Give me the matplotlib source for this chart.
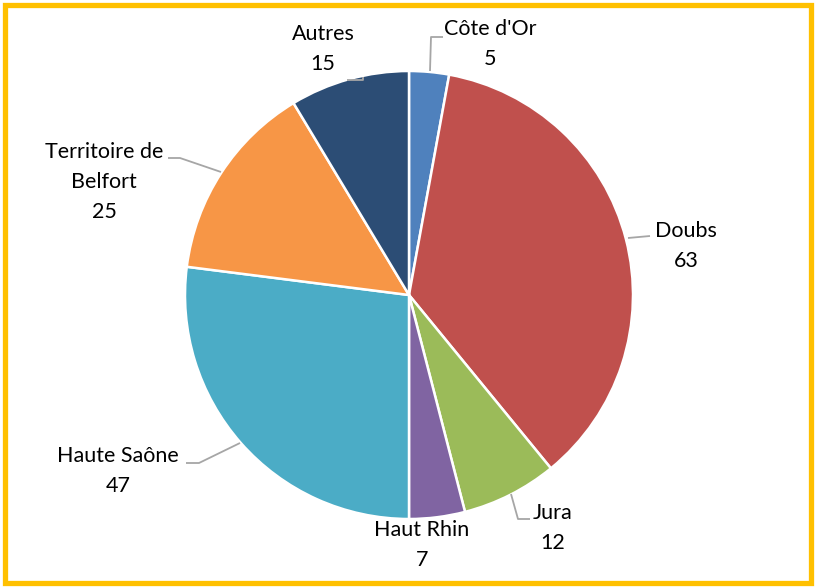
import matplotlib
matplotlib.use("Agg")
import matplotlib.pyplot as plt
from matplotlib.patches import Rectangle

# ---- data ----
categories = ["Côte d'Or", "Doubs", "Jura", "Haut Rhin", "Haute Saône",
              "Territoire de\nBelfort", "Autres"]
values = [5, 63, 12, 7, 47, 25, 15]
colors = ["#4F81BD", "#C0504D", "#9BBB59", "#8064A2", "#4BACC6",
          "#F79646", "#2C4D75"]

# ---- layout (pixel positions of label block centres) ----
W, H = 815, 587
CX, CY, R = 409, 295, 224
label_pos = [(490, 44), (686, 246), (553, 528), (422, 545),
             (118, 471), (104, 182), (323, 49)]
leaders = [
    [(430, 71), (431, 37), (443, 37)],
    [(628, 238), (650, 236)],
    [(511, 494), (518, 519), (530, 519)],
    None,
    [(240, 443), (199, 463), (186, 463)],
    [(221, 172), (180, 158), (168, 158)],
    [(347, 80), (363, 80), (363, 77)],
]

def to_data(px, py):
    return (px - CX) / R, (CY - py) / R

plt.rcParams['font.family'] = ['Lato', 'DejaVu Sans']
fig = plt.figure(figsize=(W / 100, H / 100), dpi=100)
ax = fig.add_axes([(CX - R) / W, (H - CY - R) / H, 2 * R / W, 2 * R / H])
ax.pie(values, colors=colors, startangle=90, counterclock=False, radius=1,
       wedgeprops=dict(edgecolor="white", linewidth=1.8))
ax.set_xlim(-1, 1)
ax.set_ylim(-1, 1)
ax.set_aspect("equal")
ax.axis("off")

for cat, val, pos, ld in zip(categories, values, label_pos, leaders):
    x, y = to_data(*pos)
    ax.text(x, y, f"{cat}\n{val}", ha="center", va="center", fontsize=15.5,
            color="#000000", linespacing=1.65, clip_on=False)
    if ld:
        xs, ys = zip(*[to_data(*p) for p in ld])
        ax.plot(xs, ys, color="#A6A6A6", lw=1.3, clip_on=False,
                solid_capstyle="butt")

# yellow border
fig.patches.append(Rectangle((4.5 / W, 4.5 / H), (W - 9) / W, (H - 9) / H,
                             transform=fig.transFigure, fill=False,
                             edgecolor="#FFC000", linewidth=3.8))

fig.savefig("out.png", dpi=100)
